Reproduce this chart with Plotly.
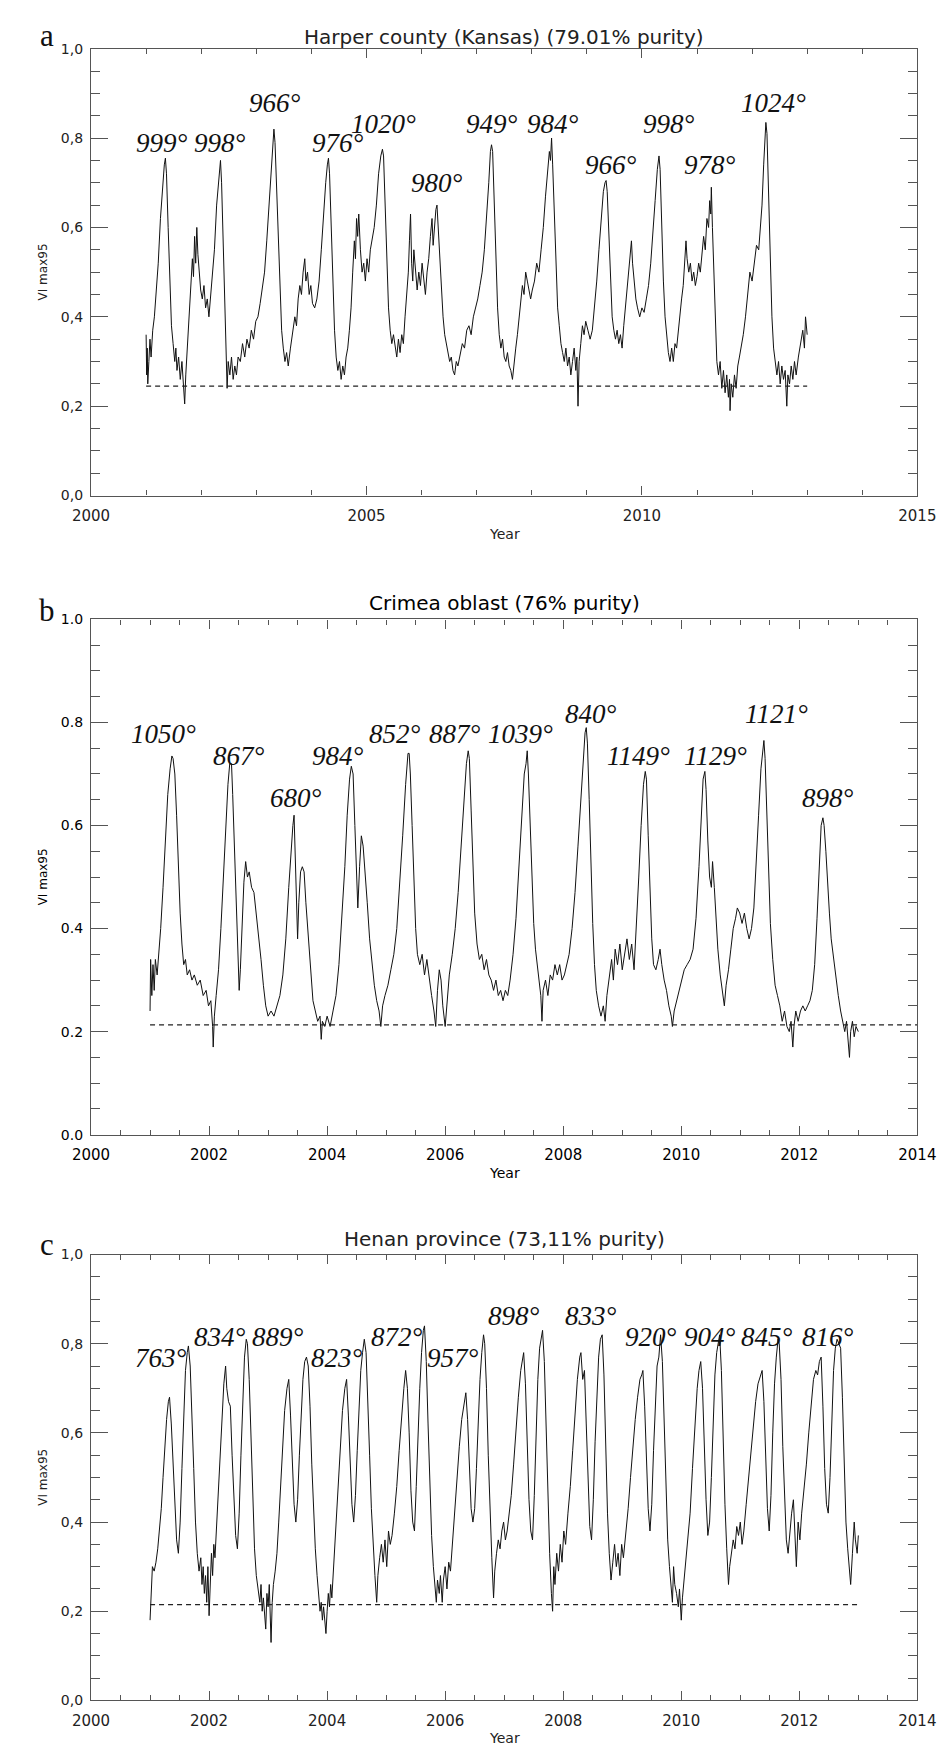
import plotly.graph_objects as go

# ---------------- data ----------------
a_title = "Harper county (Kansas) (79.01% purity)"
b_title = "Crimea oblast (76% purity)"
c_title = "Henan province (73,11% purity)"

a_series = [
(2001.00,0.36),(2001.01,0.27),(2001.02,0.33),(2001.03,0.25),(2001.05,0.30),(2001.07,0.35),(2001.09,0.31),(2001.12,0.37),(2001.15,0.40),(2001.18,0.45),(2001.22,0.52),(2001.26,0.62),(2001.30,0.70),(2001.33,0.74),(2001.35,0.755),(2001.37,0.72),(2001.40,0.60),(2001.43,0.48),(2001.46,0.38),(2001.49,0.34),(2001.52,0.30),(2001.54,0.33),(2001.56,0.28),(2001.59,0.31),(2001.62,0.26),(2001.65,0.30),(2001.68,0.24),(2001.70,0.205),(2001.72,0.27),(2001.75,0.33),(2001.78,0.40),(2001.81,0.47),(2001.84,0.53),(2001.86,0.49),(2001.88,0.58),(2001.90,0.52),(2001.92,0.60),(2001.94,0.54),(2001.96,0.50),(2001.99,0.46),(2002.02,0.44),(2002.05,0.47),(2002.08,0.42),(2002.11,0.44),(2002.14,0.40),(2002.17,0.45),(2002.20,0.48),(2002.24,0.55),(2002.28,0.65),(2002.32,0.72),(2002.35,0.75),(2002.37,0.70),(2002.40,0.55),(2002.43,0.42),(2002.45,0.33),(2002.47,0.24),(2002.49,0.30),(2002.52,0.27),(2002.55,0.31),(2002.58,0.26),(2002.61,0.29),(2002.64,0.27),(2002.67,0.31),(2002.71,0.30),(2002.75,0.34),(2002.79,0.31),(2002.83,0.35),(2002.87,0.33),(2002.91,0.37),(2002.95,0.35),(2002.99,0.39),(2003.03,0.40),(2003.07,0.43),(2003.11,0.46),(2003.15,0.50),(2003.19,0.57),(2003.23,0.65),(2003.27,0.74),(2003.30,0.80),(2003.32,0.82),(2003.34,0.79),(2003.37,0.68),(2003.40,0.55),(2003.43,0.44),(2003.46,0.37),(2003.49,0.33),(2003.52,0.30),(2003.55,0.32),(2003.58,0.29),(2003.62,0.33),(2003.66,0.36),(2003.70,0.40),(2003.73,0.38),(2003.76,0.44),(2003.79,0.47),(2003.82,0.45),(2003.85,0.50),(2003.88,0.53),(2003.90,0.48),(2003.93,0.50),(2003.96,0.45),(2003.99,0.47),(2004.02,0.43),(2004.06,0.42),(2004.10,0.44),(2004.14,0.48),(2004.18,0.55),(2004.22,0.63),(2004.26,0.70),(2004.29,0.74),(2004.31,0.755),(2004.33,0.72),(2004.36,0.60),(2004.39,0.47),(2004.42,0.37),(2004.45,0.31),(2004.48,0.28),(2004.51,0.30),(2004.54,0.26),(2004.57,0.29),(2004.60,0.27),(2004.63,0.31),(2004.66,0.33),(2004.69,0.37),(2004.72,0.42),(2004.75,0.50),(2004.78,0.57),(2004.80,0.53),(2004.82,0.62),(2004.84,0.58),(2004.86,0.63),(2004.89,0.55),(2004.92,0.50),(2004.95,0.52),(2004.98,0.48),(2005.01,0.53),(2005.04,0.50),(2005.07,0.55),(2005.10,0.57),(2005.14,0.60),(2005.18,0.65),(2005.22,0.72),(2005.26,0.76),(2005.29,0.775),(2005.31,0.76),(2005.34,0.65),(2005.37,0.52),(2005.40,0.42),(2005.43,0.37),(2005.46,0.34),(2005.49,0.36),(2005.52,0.33),(2005.55,0.31),(2005.58,0.35),(2005.61,0.32),(2005.64,0.36),(2005.67,0.34),(2005.70,0.40),(2005.73,0.45),(2005.76,0.50),(2005.78,0.57),(2005.80,0.63),(2005.82,0.52),(2005.84,0.48),(2005.86,0.55),(2005.89,0.50),(2005.92,0.46),(2005.95,0.50),(2005.98,0.47),(2006.01,0.52),(2006.04,0.48),(2006.07,0.45),(2006.10,0.50),(2006.13,0.53),(2006.16,0.58),(2006.19,0.62),(2006.21,0.56),(2006.23,0.60),(2006.26,0.64),(2006.28,0.65),(2006.30,0.60),(2006.33,0.52),(2006.36,0.45),(2006.39,0.40),(2006.42,0.36),(2006.45,0.34),(2006.48,0.32),(2006.51,0.30),(2006.54,0.31),(2006.57,0.28),(2006.60,0.27),(2006.63,0.30),(2006.66,0.29),(2006.70,0.32),(2006.74,0.34),(2006.78,0.33),(2006.82,0.37),(2006.86,0.38),(2006.90,0.36),(2006.94,0.40),(2006.98,0.42),(2007.02,0.44),(2007.06,0.47),(2007.10,0.50),(2007.14,0.55),(2007.18,0.62),(2007.22,0.70),(2007.25,0.77),(2007.27,0.785),(2007.29,0.77),(2007.32,0.65),(2007.35,0.52),(2007.38,0.42),(2007.41,0.36),(2007.44,0.33),(2007.47,0.35),(2007.50,0.31),(2007.53,0.30),(2007.56,0.32),(2007.59,0.29),(2007.62,0.28),(2007.65,0.26),(2007.68,0.30),(2007.71,0.33),(2007.74,0.36),(2007.77,0.40),(2007.80,0.44),(2007.83,0.47),(2007.86,0.45),(2007.89,0.50),(2007.92,0.48),(2007.95,0.46),(2007.98,0.44),(2008.01,0.46),(2008.05,0.48),(2008.09,0.52),(2008.13,0.50),(2008.17,0.55),(2008.21,0.60),(2008.25,0.67),(2008.29,0.74),(2008.32,0.77),(2008.34,0.75),(2008.36,0.80),(2008.38,0.74),(2008.41,0.62),(2008.44,0.50),(2008.47,0.42),(2008.50,0.38),(2008.53,0.34),(2008.56,0.32),(2008.59,0.30),(2008.62,0.33),(2008.65,0.29),(2008.68,0.31),(2008.71,0.27),(2008.74,0.30),(2008.77,0.33),(2008.80,0.28),(2008.82,0.31),(2008.84,0.20),(2008.86,0.30),(2008.89,0.34),(2008.92,0.38),(2008.95,0.36),(2008.98,0.39),(2009.02,0.37),(2009.06,0.35),(2009.10,0.37),(2009.14,0.42),(2009.18,0.48),(2009.22,0.55),(2009.26,0.62),(2009.30,0.68),(2009.33,0.70),(2009.35,0.705),(2009.37,0.68),(2009.40,0.58),(2009.43,0.47),(2009.46,0.40),(2009.49,0.37),(2009.52,0.35),(2009.55,0.37),(2009.58,0.34),(2009.61,0.36),(2009.64,0.33),(2009.67,0.38),(2009.70,0.42),(2009.73,0.46),(2009.76,0.50),(2009.79,0.53),(2009.81,0.57),(2009.83,0.52),(2009.86,0.47),(2009.89,0.44),(2009.92,0.42),(2009.96,0.40),(2010.00,0.42),(2010.04,0.41),(2010.08,0.44),(2010.12,0.47),(2010.16,0.52),(2010.20,0.58),(2010.24,0.66),(2010.28,0.73),(2010.31,0.76),(2010.33,0.73),(2010.36,0.60),(2010.39,0.48),(2010.42,0.40),(2010.45,0.35),(2010.48,0.32),(2010.51,0.30),(2010.54,0.33),(2010.57,0.30),(2010.60,0.34),(2010.63,0.33),(2010.66,0.37),(2010.69,0.40),(2010.72,0.44),(2010.75,0.47),(2010.78,0.52),(2010.80,0.57),(2010.82,0.53),(2010.85,0.50),(2010.88,0.52),(2010.91,0.48),(2010.94,0.50),(2010.97,0.47),(2011.00,0.49),(2011.03,0.52),(2011.06,0.50),(2011.09,0.55),(2011.12,0.58),(2011.15,0.55),(2011.18,0.62),(2011.21,0.60),(2011.23,0.66),(2011.25,0.63),(2011.26,0.69),(2011.28,0.60),(2011.30,0.52),(2011.32,0.42),(2011.34,0.35),(2011.36,0.30),(2011.39,0.27),(2011.42,0.30),(2011.45,0.24),(2011.48,0.28),(2011.51,0.23),(2011.54,0.27),(2011.57,0.22),(2011.59,0.26),(2011.60,0.19),(2011.62,0.25),(2011.65,0.22),(2011.68,0.27),(2011.71,0.24),(2011.74,0.29),(2011.77,0.31),(2011.80,0.33),(2011.84,0.36),(2011.88,0.40),(2011.92,0.45),(2011.96,0.50),(2012.00,0.48),(2012.04,0.52),(2012.08,0.56),(2012.12,0.55),(2012.15,0.60),(2012.18,0.65),(2012.21,0.74),(2012.23,0.80),(2012.25,0.835),(2012.27,0.81),(2012.30,0.68),(2012.33,0.52),(2012.36,0.40),(2012.39,0.33),(2012.42,0.30),(2012.45,0.27),(2012.48,0.30),(2012.51,0.25),(2012.54,0.29),(2012.57,0.26),(2012.60,0.28),(2012.63,0.20),(2012.65,0.27),(2012.68,0.25),(2012.71,0.29),(2012.74,0.26),(2012.77,0.30),(2012.80,0.27),(2012.84,0.31),(2012.88,0.34),(2012.92,0.37),(2012.95,0.33),(2012.97,0.40),(2013.00,0.36),
]

b_series = [
(2001.00,0.24),(2001.01,0.34),(2001.03,0.27),(2001.05,0.33),(2001.07,0.28),(2001.09,0.34),(2001.12,0.31),(2001.15,0.35),(2001.18,0.40),(2001.22,0.48),(2001.26,0.58),(2001.30,0.66),(2001.34,0.71),(2001.37,0.735),(2001.39,0.73),(2001.42,0.70),(2001.45,0.62),(2001.48,0.52),(2001.51,0.43),(2001.54,0.37),(2001.57,0.33),(2001.60,0.34),(2001.63,0.31),(2001.67,0.32),(2001.71,0.30),(2001.75,0.31),(2001.80,0.29),(2001.85,0.30),(2001.90,0.27),(2001.95,0.28),(2001.99,0.25),(2002.03,0.26),(2002.06,0.21),(2002.07,0.17),(2002.09,0.23),(2002.12,0.27),(2002.16,0.32),(2002.20,0.40),(2002.24,0.50),(2002.28,0.60),(2002.32,0.68),(2002.35,0.72),(2002.38,0.72),(2002.40,0.66),(2002.43,0.55),(2002.46,0.42),(2002.49,0.33),(2002.51,0.28),(2002.53,0.32),(2002.56,0.42),(2002.59,0.49),(2002.62,0.53),(2002.65,0.50),(2002.68,0.51),(2002.72,0.48),(2002.76,0.47),(2002.80,0.43),(2002.84,0.39),(2002.88,0.34),(2002.92,0.29),(2002.96,0.25),(2003.00,0.23),(2003.05,0.24),(2003.10,0.23),(2003.15,0.25),(2003.20,0.27),(2003.25,0.31),(2003.30,0.38),(2003.35,0.48),(2003.39,0.56),(2003.42,0.60),(2003.44,0.62),(2003.46,0.55),(2003.48,0.45),(2003.50,0.38),(2003.52,0.45),(2003.55,0.51),(2003.58,0.52),(2003.61,0.51),(2003.64,0.45),(2003.68,0.38),(2003.72,0.31),(2003.76,0.26),(2003.80,0.24),(2003.84,0.22),(2003.88,0.23),(2003.90,0.185),(2003.92,0.22),(2003.96,0.21),(2004.00,0.23),(2004.05,0.21),(2004.10,0.24),(2004.15,0.27),(2004.20,0.33),(2004.25,0.42),(2004.30,0.52),(2004.34,0.62),(2004.38,0.69),(2004.41,0.715),(2004.44,0.70),(2004.47,0.60),(2004.50,0.48),(2004.52,0.44),(2004.55,0.52),(2004.58,0.58),(2004.61,0.56),(2004.64,0.52),(2004.68,0.45),(2004.72,0.38),(2004.76,0.33),(2004.80,0.29),(2004.84,0.26),(2004.88,0.24),(2004.91,0.21),(2004.94,0.25),(2004.98,0.27),(2005.03,0.29),(2005.08,0.32),(2005.13,0.35),(2005.18,0.40),(2005.23,0.48),(2005.28,0.58),(2005.33,0.68),(2005.37,0.74),(2005.39,0.74),(2005.41,0.70),(2005.44,0.60),(2005.47,0.48),(2005.50,0.40),(2005.53,0.35),(2005.57,0.33),(2005.61,0.35),(2005.65,0.31),(2005.69,0.34),(2005.73,0.30),(2005.77,0.27),(2005.81,0.24),(2005.84,0.21),(2005.87,0.28),(2005.90,0.32),(2005.93,0.30),(2005.96,0.25),(2006.00,0.21),(2006.03,0.26),(2006.07,0.31),(2006.12,0.35),(2006.17,0.40),(2006.22,0.47),(2006.27,0.56),(2006.32,0.65),(2006.36,0.72),(2006.39,0.745),(2006.41,0.73),(2006.44,0.63),(2006.47,0.52),(2006.50,0.43),(2006.54,0.37),(2006.58,0.34),(2006.62,0.35),(2006.66,0.32),(2006.70,0.34),(2006.74,0.31),(2006.78,0.30),(2006.82,0.28),(2006.86,0.30),(2006.90,0.27),(2006.94,0.28),(2006.98,0.26),(2007.02,0.28),(2007.06,0.27),(2007.10,0.30),(2007.15,0.35),(2007.20,0.42),(2007.25,0.52),(2007.30,0.62),(2007.34,0.70),(2007.37,0.72),(2007.39,0.745),(2007.41,0.70),(2007.44,0.60),(2007.47,0.49),(2007.50,0.41),(2007.53,0.36),(2007.56,0.33),(2007.59,0.30),(2007.62,0.27),(2007.64,0.22),(2007.66,0.28),(2007.70,0.30),(2007.74,0.27),(2007.78,0.31),(2007.82,0.30),(2007.86,0.33),(2007.90,0.31),(2007.94,0.33),(2007.98,0.30),(2008.02,0.31),(2008.06,0.33),(2008.10,0.35),(2008.15,0.40),(2008.20,0.47),(2008.25,0.56),(2008.30,0.66),(2008.34,0.74),(2008.37,0.78),(2008.39,0.79),(2008.41,0.76),(2008.44,0.65),(2008.47,0.52),(2008.50,0.41),(2008.53,0.33),(2008.56,0.28),(2008.60,0.25),(2008.64,0.23),(2008.68,0.25),(2008.71,0.22),(2008.74,0.27),(2008.78,0.31),(2008.82,0.34),(2008.85,0.30),(2008.88,0.36),(2008.92,0.33),(2008.96,0.37),(2009.00,0.32),(2009.04,0.35),(2009.08,0.38),(2009.12,0.34),(2009.16,0.37),(2009.20,0.32),(2009.24,0.40),(2009.28,0.50),(2009.32,0.60),(2009.36,0.68),(2009.39,0.705),(2009.41,0.69),(2009.44,0.58),(2009.47,0.47),(2009.50,0.38),(2009.53,0.33),(2009.57,0.32),(2009.61,0.34),(2009.64,0.36),(2009.67,0.33),(2009.71,0.30),(2009.75,0.28),(2009.79,0.25),(2009.83,0.23),(2009.85,0.21),(2009.88,0.24),(2009.92,0.26),(2009.96,0.28),(2010.00,0.30),(2010.05,0.32),(2010.10,0.33),(2010.15,0.34),(2010.20,0.36),(2010.25,0.42),(2010.30,0.52),(2010.34,0.62),(2010.37,0.69),(2010.40,0.705),(2010.42,0.67),(2010.45,0.57),(2010.48,0.50),(2010.51,0.48),(2010.53,0.53),(2010.56,0.48),(2010.59,0.42),(2010.62,0.36),(2010.66,0.31),(2010.70,0.28),(2010.73,0.25),(2010.76,0.29),(2010.80,0.32),(2010.84,0.36),(2010.88,0.40),(2010.92,0.42),(2010.95,0.44),(2010.99,0.43),(2011.03,0.41),(2011.07,0.43),(2011.11,0.40),(2011.15,0.38),(2011.19,0.40),(2011.23,0.44),(2011.27,0.52),(2011.31,0.62),(2011.35,0.71),(2011.38,0.75),(2011.40,0.765),(2011.42,0.73),(2011.45,0.62),(2011.48,0.50),(2011.51,0.41),(2011.55,0.34),(2011.59,0.29),(2011.63,0.27),(2011.67,0.25),(2011.71,0.22),(2011.75,0.24),(2011.79,0.21),(2011.83,0.20),(2011.86,0.22),(2011.89,0.17),(2011.91,0.21),(2011.94,0.24),(2011.98,0.22),(2012.02,0.24),(2012.06,0.25),(2012.10,0.24),(2012.14,0.25),(2012.18,0.26),(2012.22,0.28),(2012.26,0.33),(2012.30,0.42),(2012.34,0.53),(2012.37,0.60),(2012.40,0.615),(2012.42,0.60),(2012.45,0.55),(2012.48,0.48),(2012.51,0.43),(2012.54,0.38),(2012.58,0.34),(2012.62,0.30),(2012.66,0.27),(2012.70,0.24),(2012.74,0.22),(2012.77,0.20),(2012.80,0.22),(2012.83,0.17),(2012.85,0.15),(2012.87,0.20),(2012.90,0.22),(2012.93,0.19),(2012.96,0.21),(2013.00,0.20),
]

c_series = [
(2001.00,0.18),(2001.02,0.26),(2001.04,0.30),(2001.07,0.29),(2001.10,0.31),(2001.13,0.34),(2001.16,0.38),(2001.19,0.43),(2001.22,0.50),(2001.25,0.58),(2001.28,0.63),(2001.31,0.67),(2001.33,0.68),(2001.36,0.62),(2001.39,0.52),(2001.42,0.43),(2001.45,0.36),(2001.48,0.33),(2001.51,0.40),(2001.54,0.52),(2001.57,0.65),(2001.60,0.74),(2001.63,0.78),(2001.65,0.795),(2001.68,0.75),(2001.71,0.65),(2001.74,0.52),(2001.77,0.40),(2001.80,0.33),(2001.83,0.29),(2001.86,0.32),(2001.88,0.26),(2001.90,0.30),(2001.92,0.24),(2001.94,0.28),(2001.96,0.22),(2001.98,0.30),(2002.00,0.19),(2002.02,0.27),(2002.04,0.33),(2002.06,0.28),(2002.08,0.35),(2002.10,0.32),(2002.13,0.40),(2002.16,0.48),(2002.19,0.57),(2002.22,0.65),(2002.25,0.71),(2002.28,0.75),(2002.30,0.70),(2002.33,0.67),(2002.36,0.66),(2002.39,0.55),(2002.42,0.44),(2002.45,0.37),(2002.48,0.34),(2002.51,0.42),(2002.54,0.55),(2002.57,0.68),(2002.60,0.77),(2002.63,0.81),(2002.65,0.80),(2002.68,0.72),(2002.71,0.58),(2002.74,0.44),(2002.77,0.34),(2002.80,0.28),(2002.83,0.25),(2002.86,0.22),(2002.88,0.26),(2002.90,0.20),(2002.92,0.23),(2002.94,0.19),(2002.96,0.16),(2002.98,0.24),(2003.00,0.21),(2003.02,0.26),(2003.04,0.19),(2003.05,0.13),(2003.07,0.22),(2003.09,0.26),(2003.12,0.29),(2003.15,0.33),(2003.18,0.40),(2003.21,0.48),(2003.24,0.57),(2003.28,0.65),(2003.32,0.70),(2003.35,0.72),(2003.38,0.64),(2003.41,0.52),(2003.44,0.44),(2003.47,0.40),(2003.50,0.45),(2003.53,0.55),(2003.56,0.65),(2003.59,0.72),(2003.62,0.76),(2003.65,0.77),(2003.68,0.75),(2003.71,0.66),(2003.74,0.53),(2003.77,0.42),(2003.80,0.34),(2003.83,0.28),(2003.86,0.24),(2003.88,0.20),(2003.90,0.22),(2003.92,0.18),(2003.94,0.21),(2003.96,0.17),(2003.98,0.15),(2004.00,0.20),(2004.02,0.24),(2004.04,0.21),(2004.06,0.26),(2004.08,0.23),(2004.10,0.28),(2004.13,0.33),(2004.16,0.40),(2004.19,0.48),(2004.22,0.57),(2004.26,0.65),(2004.30,0.70),(2004.33,0.72),(2004.36,0.64),(2004.39,0.52),(2004.42,0.44),(2004.45,0.40),(2004.48,0.46),(2004.51,0.56),(2004.54,0.67),(2004.57,0.74),(2004.60,0.78),(2004.63,0.81),(2004.66,0.78),(2004.69,0.68),(2004.72,0.55),(2004.75,0.43),(2004.78,0.34),(2004.81,0.28),(2004.84,0.22),(2004.86,0.28),(2004.89,0.32),(2004.92,0.35),(2004.95,0.31),(2004.98,0.36),(2005.01,0.30),(2005.04,0.38),(2005.07,0.35),(2005.10,0.37),(2005.14,0.42),(2005.18,0.48),(2005.22,0.56),(2005.26,0.64),(2005.30,0.70),(2005.33,0.74),(2005.36,0.70),(2005.39,0.60),(2005.42,0.47),(2005.45,0.40),(2005.48,0.38),(2005.51,0.48),(2005.54,0.60),(2005.57,0.70),(2005.60,0.78),(2005.63,0.83),(2005.65,0.84),(2005.68,0.76),(2005.71,0.62),(2005.74,0.47),(2005.77,0.37),(2005.80,0.30),(2005.83,0.25),(2005.85,0.22),(2005.87,0.27),(2005.90,0.24),(2005.92,0.28),(2005.95,0.22),(2005.97,0.27),(2006.00,0.30),(2006.03,0.25),(2006.06,0.31),(2006.09,0.29),(2006.12,0.35),(2006.16,0.42),(2006.20,0.50),(2006.24,0.57),(2006.28,0.63),(2006.32,0.67),(2006.35,0.69),(2006.38,0.63),(2006.41,0.52),(2006.44,0.43),(2006.47,0.40),(2006.50,0.43),(2006.53,0.52),(2006.56,0.63),(2006.59,0.72),(2006.62,0.78),(2006.65,0.82),(2006.67,0.80),(2006.70,0.70),(2006.73,0.55),(2006.76,0.42),(2006.79,0.32),(2006.82,0.23),(2006.84,0.29),(2006.87,0.33),(2006.90,0.36),(2006.93,0.34),(2006.96,0.38),(2006.99,0.40),(2007.02,0.36),(2007.05,0.38),(2007.08,0.41),(2007.12,0.46),(2007.16,0.53),(2007.20,0.61),(2007.24,0.68),(2007.28,0.74),(2007.31,0.76),(2007.33,0.78),(2007.36,0.71),(2007.39,0.57),(2007.42,0.45),(2007.45,0.38),(2007.48,0.36),(2007.51,0.46),(2007.54,0.60),(2007.57,0.72),(2007.60,0.79),(2007.63,0.82),(2007.65,0.83),(2007.68,0.76),(2007.71,0.60),(2007.74,0.45),(2007.77,0.33),(2007.80,0.24),(2007.82,0.20),(2007.84,0.30),(2007.86,0.26),(2007.89,0.33),(2007.92,0.29),(2007.95,0.35),(2007.98,0.31),(2008.01,0.38),(2008.04,0.35),(2008.08,0.42),(2008.12,0.48),(2008.16,0.56),(2008.20,0.64),(2008.24,0.72),(2008.28,0.77),(2008.30,0.78),(2008.33,0.72),(2008.36,0.74),(2008.39,0.62),(2008.42,0.48),(2008.45,0.39),(2008.48,0.36),(2008.51,0.45),(2008.54,0.58),(2008.57,0.70),(2008.60,0.77),(2008.63,0.81),(2008.66,0.82),(2008.69,0.73),(2008.72,0.57),(2008.75,0.42),(2008.78,0.33),(2008.81,0.27),(2008.84,0.31),(2008.87,0.35),(2008.90,0.30),(2008.93,0.33),(2008.96,0.28),(2008.99,0.35),(2009.02,0.32),(2009.06,0.37),(2009.10,0.43),(2009.14,0.50),(2009.18,0.57),(2009.22,0.63),(2009.26,0.68),(2009.30,0.72),(2009.33,0.73),(2009.35,0.74),(2009.38,0.66),(2009.41,0.53),(2009.44,0.43),(2009.47,0.38),(2009.50,0.44),(2009.53,0.56),(2009.56,0.68),(2009.59,0.75),(2009.62,0.77),(2009.65,0.82),(2009.68,0.76),(2009.71,0.61),(2009.74,0.47),(2009.77,0.36),(2009.80,0.30),(2009.83,0.25),(2009.85,0.22),(2009.87,0.30),(2009.89,0.26),(2009.92,0.24),(2009.95,0.21),(2009.97,0.25),(2010.00,0.18),(2010.02,0.23),(2010.05,0.27),(2010.08,0.31),(2010.11,0.36),(2010.15,0.42),(2010.19,0.52),(2010.23,0.62),(2010.27,0.70),(2010.30,0.74),(2010.33,0.76),(2010.36,0.70),(2010.39,0.57),(2010.42,0.45),(2010.45,0.37),(2010.48,0.40),(2010.51,0.50),(2010.54,0.63),(2010.57,0.73),(2010.60,0.78),(2010.63,0.81),(2010.65,0.82),(2010.68,0.74),(2010.71,0.58),(2010.74,0.44),(2010.77,0.34),(2010.80,0.26),(2010.82,0.30),(2010.85,0.33),(2010.88,0.36),(2010.91,0.34),(2010.94,0.39),(2010.97,0.37),(2011.00,0.40),(2011.03,0.35),(2011.06,0.38),(2011.10,0.44),(2011.14,0.50),(2011.18,0.56),(2011.22,0.62),(2011.26,0.67),(2011.30,0.71),(2011.34,0.73),(2011.37,0.74),(2011.40,0.67),(2011.43,0.53),(2011.46,0.43),(2011.49,0.38),(2011.52,0.46),(2011.55,0.60),(2011.58,0.71),(2011.61,0.77),(2011.64,0.81),(2011.66,0.80),(2011.69,0.72),(2011.72,0.57),(2011.75,0.44),(2011.78,0.36),(2011.81,0.33),(2011.84,0.38),(2011.87,0.42),(2011.90,0.45),(2011.93,0.35),(2011.95,0.30),(2011.98,0.40),(2012.01,0.36),(2012.04,0.42),(2012.08,0.47),(2012.12,0.53),(2012.16,0.60),(2012.20,0.66),(2012.24,0.72),(2012.28,0.74),(2012.31,0.73),(2012.34,0.76),(2012.37,0.77),(2012.40,0.66),(2012.43,0.52),(2012.46,0.44),(2012.49,0.42),(2012.52,0.50),(2012.55,0.63),(2012.58,0.74),(2012.61,0.79),(2012.64,0.81),(2012.67,0.80),(2012.70,0.79),(2012.73,0.68),(2012.76,0.52),(2012.79,0.40),(2012.82,0.34),(2012.85,0.30),(2012.87,0.26),(2012.90,0.33),(2012.93,0.40),(2012.95,0.36),(2012.98,0.33),(2013.00,0.37),
]

a_year, a_vi = zip(*a_series)
b_year, b_vi = zip(*b_series)
c_year, c_vi = zip(*c_series)

# threshold (dashed) lines: value, start year, end year
a_threshold = (0.245, 2001.0, 2013.0)
b_threshold = (0.213, 2001.0, 2014.0)
c_threshold = (0.215, 2001.0, 2013.0)

# peak labels (growing degree days): text, year, value
a_labels = ["999°", "998°", "966°", "976°", "1020°", "980°", "949°", "984°", "966°", "998°", "978°", "1024°"]
a_label_x = [2001.28, 2002.34, 2003.34, 2004.49, 2005.31, 2006.28, 2007.28, 2008.39, 2009.44, 2010.49, 2011.23, 2012.39]
a_label_y = [0.788, 0.788, 0.879, 0.788, 0.832, 0.700, 0.832, 0.832, 0.740, 0.832, 0.740, 0.879]

b_labels = ["1050°", "867°", "680°", "984°", "852°", "887°", "1039°", "840°", "1149°", "1129°", "1121°", "898°"]
b_label_x = [2001.22, 2002.50, 2003.48, 2004.19, 2005.15, 2006.16, 2007.27, 2008.47, 2009.27, 2010.58, 2011.61, 2012.48]
b_label_y = [0.777, 0.735, 0.653, 0.735, 0.777, 0.777, 0.777, 0.816, 0.735, 0.735, 0.816, 0.653]

c_labels = ["763°", "834°", "889°", "823°", "872°", "957°", "898°", "833°", "920°", "904°", "845°", "816°"]
c_label_x = [2001.18, 2002.18, 2003.16, 2004.17, 2005.18, 2006.14, 2007.17, 2008.47, 2009.48, 2010.48, 2011.46, 2012.48]
c_label_y = [0.769, 0.815, 0.815, 0.769, 0.815, 0.769, 0.863, 0.863, 0.815, 0.815, 0.815, 0.815]

y_ticks = [0.0, 0.2, 0.4, 0.6, 0.8, 1.0]
y_ticktext_comma = ["0,0", "0,2", "0,4", "0,6", "0,8", "1,0"]
y_ticktext_dot = ["0.0", "0.2", "0.4", "0.6", "0.8", "1.0"]

# ---------------- layout ----------------
W, H = 949, 1746
PL, PR = 66.7, 927.5
panels = [
    dict(top=33, bottom=484, xr=[2000, 2015], xmaj=5, xmin=1, ytext=y_ticktext_comma,
         year=a_year, vi=a_vi, thr=a_threshold, labels=(a_labels, a_label_x, a_label_y),
         title=a_title, title_y=21, letter="a", letter_y=20, xlab_y=523, txt="#222222"),
    dict(top=609, bottom=1129, xr=[2000, 2014], xmaj=2, xmin=0.5, ytext=y_ticktext_dot,
         year=b_year, vi=b_vi, thr=b_threshold, labels=(b_labels, b_label_x, b_label_y),
         title=b_title, title_y=592, letter="b", letter_y=600, xlab_y=1168, txt="#000000"),
    dict(top=1250, bottom=1700, xr=[2000, 2014], xmaj=2, xmin=0.5, ytext=y_ticktext_comma,
         year=c_year, vi=c_vi, thr=c_threshold, labels=(c_labels, c_label_x, c_label_y),
         title=c_title, title_y=1234, letter="c", letter_y=1240, xlab_y=1738, txt="#222222"),
]

AX = "#555555"
SANS = "DejaVu Sans"
SERIF = "Liberation Serif"

fig = go.Figure()
annotations = []
layout = {}

for i, p in enumerate(panels):
    k = "" if i == 0 else str(i + 1)
    xa, ya = "x" + k, "y" + k
    TXT = p["txt"]
    fig.add_trace(go.Scatter(x=list(p["year"]), y=list(p["vi"]), mode="lines",
                             line=dict(color="#111111", width=1), xaxis=xa, yaxis=ya,
                             hoverinfo="skip"))
    v, x0, x1 = p["thr"]
    fig.add_trace(go.Scatter(x=[x0, x1], y=[v, v], mode="lines",
                             line=dict(color="#222222", width=1.2, dash="5px,4px"),
                             xaxis=xa, yaxis=ya, hoverinfo="skip"))

    x_minor = []
    t = p["xr"][0]
    while t <= p["xr"][1] + 1e-9:
        if abs((t - p["xr"][0]) / p["xmaj"] - round((t - p["xr"][0]) / p["xmaj"])) > 1e-6:
            x_minor.append(t)
        t += p["xmin"]
    x_major = []
    t = p["xr"][0]
    while t <= p["xr"][1] + 1e-9:
        x_major.append(t)
        t += p["xmaj"]
    y_minor = [round(j * 0.05, 2) for j in range(21) if j % 4 != 0]

    layout["xaxis" + k] = dict(
        domain=[PL / W, PR / W], anchor=ya, range=p["xr"],
        tickmode="array", tickvals=x_major, ticktext=[str(int(t)) for t in x_major],
        ticks="inside", ticklen=9, tickwidth=1, tickcolor=AX,
        minor=dict(tickmode="array", tickvals=x_minor, ticks="inside", ticklen=5,
                   tickwidth=1, tickcolor=AX, showgrid=False),
        showline=True, linecolor=AX, linewidth=1.2, mirror="ticks",
        showgrid=False, zeroline=False, fixedrange=True,
        tickfont=dict(family=SANS, size=15, color=TXT), ticklabelstandoff=6,
    )
    layout["yaxis" + k] = dict(
        domain=[1 - p["bottom"] / H, 1 - p["top"] / H], anchor=xa, range=[0, 1],
        tickmode="array", tickvals=y_ticks, ticktext=p["ytext"],
        ticks="inside", ticklen=17, tickwidth=1, tickcolor=AX,
        minor=dict(tickmode="array", tickvals=y_minor, ticks="inside", ticklen=9,
                   tickwidth=1, tickcolor=AX, showgrid=False),
        showline=True, linecolor=AX, linewidth=1.2, mirror="ticks",
        showgrid=False, zeroline=False, fixedrange=True,
        tickfont=dict(family=SANS, size=14, color=TXT), ticklabelstandoff=4,
    )

    # peak labels
    texts, lx, ly = p["labels"]
    for tx, xx, yy in zip(texts, lx, ly):
        annotations.append(dict(x=xx, y=yy, xref=xa, yref=ya, text="<i>" + tx + "</i>",
                                showarrow=False, xanchor="center", yanchor="middle",
                                font=dict(family=SERIF, size=27, color="#111111")))
    # title
    annotations.append(dict(x=(PL + PR) / 2 / W, y=1 - p["title_y"] / H, xref="paper", yref="paper",
                            text=p["title"], showarrow=False, xanchor="center", yanchor="middle",
                            font=dict(family=SANS, size=20, color=TXT)))
    # panel letter
    annotations.append(dict(x=21 / W, y=1 - p["letter_y"] / H, xref="paper", yref="paper",
                            text=p["letter"], showarrow=False, xanchor="center", yanchor="middle",
                            font=dict(family=SERIF, size=31, color="#111111")))
    # x-axis title
    annotations.append(dict(x=(PL + PR) / 2 / W, y=1 - p["xlab_y"] / H, xref="paper", yref="paper",
                            text="Year", showarrow=False, xanchor="center", yanchor="middle",
                            font=dict(family=SANS, size=14, color=TXT)))
    # y-axis title
    annotations.append(dict(x=17 / W, y=1 - (p["top"] + p["bottom"]) / 2 / H, xref="paper", yref="paper",
                            text="VI max95", textangle=-90, showarrow=False,
                            xanchor="center", yanchor="middle",
                            font=dict(family=SANS, size=12, color=TXT)))

fig.update_layout(
    width=W, height=H, margin=dict(l=0, r=0, t=0, b=0),
    paper_bgcolor="white", plot_bgcolor="white", showlegend=False,
    annotations=annotations, **layout,
)

fig.write_html("out.html")
